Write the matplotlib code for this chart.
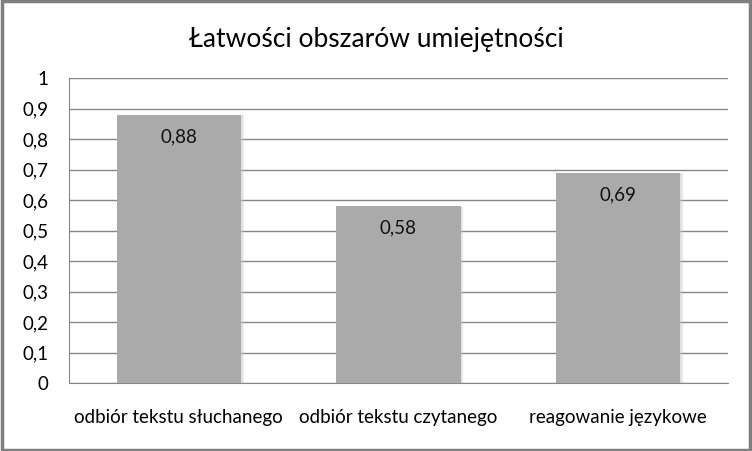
import matplotlib.pyplot as plt
from matplotlib.patches import Rectangle

# Chart data
categories = ['odbiór tekstu słuchanego', 'odbiór tekstu czytanego', 'reagowanie językowe']
values = [0.88, 0.58, 0.69]
y_ticks = [0, 0.1, 0.2, 0.3, 0.4, 0.5, 0.6, 0.7, 0.8, 0.9, 1]
title = 'Łatwości obszarów umiejętności'

plt.rcParams['font.family'] = ['Lato', 'DejaVu Sans']

fig = plt.figure(figsize=(7.52, 4.51), dpi=100)
W, H = 752, 451
ax = fig.add_axes([69 / W, 1 - 383 / H, (728 - 69) / W, (383 - 78) / H])

x = list(range(len(categories)))
bar_width = 0.565

# soft shadow to the right of each bar
for xi, v in zip(x, values):
    for k, a in enumerate([0.35, 0.2, 0.1]):
        ax.add_patch(Rectangle((xi - bar_width / 2 + 0.004, 0), bar_width + 0.004 * (k + 1), v - 0.002,
                               facecolor='#c8c8c8', edgecolor='none', alpha=a, zorder=2))

bars = ax.bar(x, values, width=bar_width, color='#aaaaaa', edgecolor='none', zorder=3)

for xi, v in zip(x, values):
    ax.text(xi, v - 0.072, f'{v:.2f}'.replace('.', ','), ha='center', va='center',
            fontsize=13.5, color='#111111', zorder=4)

ax.set_xlim(-0.5, len(categories) - 0.5)
ax.set_ylim(0, 1)
ax.set_yticks(y_ticks)
ax.set_yticklabels([f'{t:g}'.replace('.', ',') for t in y_ticks], fontsize=13.5)
ax.set_xticks(x)
ax.set_xticklabels(categories, fontsize=13.5)
ax.tick_params(axis='y', length=0, pad=15)
ax.tick_params(axis='x', length=0, pad=19)
ax.yaxis.grid(True, color='#868686', linewidth=1)
ax.set_axisbelow(True)
for side in ['top', 'right']:
    ax.spines[side].set_visible(False)
ax.spines['left'].set_color('#868686')
ax.spines['bottom'].set_color('#868686')

fig.text(0.5, 1 - 40 / H, title, ha='center', va='center', fontsize=19)

# outer frame of the chart
fig.patches.append(Rectangle((0.002, 0.003), 0.995, 0.994, transform=fig.transFigure,
                             fill=False, edgecolor='#7f7f7f', linewidth=2.5))

fig.savefig('out.png', dpi=100)
